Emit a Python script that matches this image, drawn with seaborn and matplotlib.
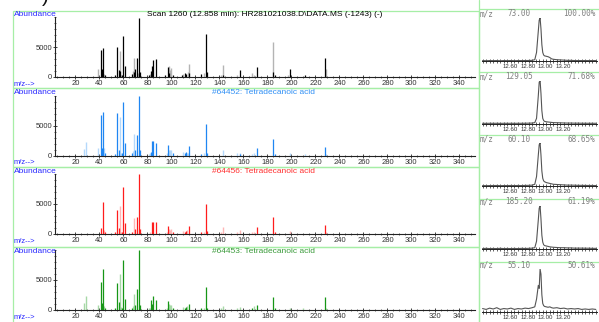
import matplotlib
matplotlib.use("Agg")
import matplotlib.pyplot as plt
from matplotlib.patches import Rectangle
from matplotlib.lines import Line2D
from matplotlib.ticker import MultipleLocator, FixedLocator
import seaborn as sns
import numpy as np

sns.set_style("ticks")
plt.rcParams['font.family'] = ['Liberation Sans', 'DejaVu Sans']

# ---------------- data: mass spectra ----------------
p1_dark_mz = [41, 42, 43, 45, 53, 55, 56, 57, 59, 60, 61, 67, 69, 70, 71, 73, 74, 81, 83, 84, 85, 87,
              95, 97, 98, 101, 109, 111, 112, 115, 125, 129, 130, 143, 157, 171, 185, 186, 199, 211, 228]
p1_dark_ab = [4560, 1400, 4840, 300, 400, 4950, 1200, 1000, 300, 6760, 1900, 500, 900, 1400, 3200, 9800, 800,
              300, 1000, 1800, 2800, 3000, 300, 1700, 700, 300, 300, 700, 500, 600, 500, 7100, 900, 400,
              1150, 1700, 900, 300, 1300, 400, 3200]
p1_light_mz = [39, 44, 57, 58, 68, 69, 72, 82, 98, 99, 100, 110, 114, 115, 127, 141, 143, 155, 167, 169,
               185, 197, 229]
p1_light_ab = [1300, 500, 4340, 400, 1000, 3200, 600, 500, 1800, 1100, 1500, 500, 900, 2100, 600, 400, 2000,
               400, 600, 400, 5900, 300, 1300]

p2_dark_mz = [41, 42, 43, 45, 53, 55, 56, 59, 60, 61, 67, 70, 71, 73, 74, 83, 84, 85, 87, 97, 101, 111,
              112, 115, 125, 129, 130, 157, 171, 185, 186, 228]
p2_dark_ab = [6700, 1300, 7200, 500, 300, 7100, 1000, 500, 8950, 2050, 400, 950, 3400, 10000, 1000, 600, 2400,
              2400, 2050, 1700, 400, 400, 600, 1550, 300, 5170, 500, 300, 1300, 2830, 300, 1500]
p2_light_mz = [27, 29, 39, 44, 57, 58, 68, 69, 81, 82, 96, 98, 99, 100, 110, 113, 114, 127, 143, 155, 157,
               167, 169, 199, 211, 229]
p2_light_ab = [1050, 2300, 1300, 1300, 6450, 500, 700, 3550, 300, 400, 500, 1000, 900, 900, 600, 500, 400,
               400, 1000, 500, 500, 300, 500, 500, 300, 300]

p3_dark_mz = [41, 43, 45, 53, 55, 56, 59, 60, 61, 67, 70, 71, 73, 74, 84, 85, 87, 97, 101, 111, 112, 115,
              125, 129, 130, 171, 185, 186, 228]
p3_dark_ab = [1000, 5280, 300, 300, 3930, 1000, 300, 7800, 1800, 300, 800, 2800, 10000, 800, 2000, 2000, 2000,
              1400, 300, 300, 500, 1400, 300, 5000, 500, 1200, 2860, 300, 1500]
p3_light_mz = [44, 57, 58, 69, 82, 96, 98, 99, 100, 110, 113, 127, 141, 143, 155, 157, 167, 169, 199, 229]
p3_light_ab = [700, 4720, 400, 2640, 300, 400, 900, 600, 800, 500, 700, 400, 300, 1200, 400, 600, 300, 400,
               500, 300]

p4_dark_mz = [41, 42, 43, 45, 53, 55, 56, 59, 60, 61, 67, 70, 71, 73, 74, 83, 84, 85, 87, 97, 101, 111,
              112, 115, 125, 129, 130, 167, 171, 185, 186, 228]
p4_dark_ab = [4600, 1100, 6800, 300, 300, 4440, 1300, 400, 8400, 1900, 300, 900, 3430, 10050, 800, 1750, 1000,
              2400, 1600, 1500, 300, 400, 500, 1070, 300, 3760, 400, 400, 800, 2250, 300, 2250]
p4_light_mz = [27, 29, 39, 44, 57, 58, 68, 69, 81, 82, 96, 98, 99, 100, 110, 113, 127, 141, 143, 155, 157,
               169, 199, 210, 229]
p4_light_ab = [1100, 2400, 900, 600, 6070, 500, 600, 2750, 300, 300, 400, 1000, 900, 800, 500, 600, 400, 300,
               700, 400, 500, 600, 400, 300, 300]

spec_titles = ["Scan 1260 (12.858 min): HR281021038.D\\DATA.MS (-1243) (-)",
               "#64452: Tetradecanoic acid",
               "#64456: Tetradecanoic acid",
               "#64453: Tetradecanoic acid"]
x_ticks = [20, 40, 60, 80, 100, 120, 140, 160, 180, 200, 220, 240, 260, 280, 300, 320, 340]
y_ticks = [0, 5000]

# ---------------- data: extracted ion chromatograms ----------------
eic_labels = [("73.00", "100.00%"), ("129.05", "71.68%"), ("60.10", "68.65%"),
              ("185.20", "61.19%"), ("55.10", "50.61%")]
eic_time = [12.20, 12.24, 12.28, 12.32, 12.36, 12.40, 12.44, 12.48, 12.52, 12.56, 12.60, 12.64, 12.68,
            12.72, 12.76, 12.79, 12.81, 12.83, 12.84, 12.85, 12.86, 12.87, 12.88, 12.89, 12.90, 12.92,
            12.94, 12.96, 12.98, 13.00, 13.04, 13.08, 13.12, 13.16, 13.20, 13.24, 13.28, 13.32, 13.36,
            13.40, 13.44, 13.48]
eic_73 = [1, 0.6, 1, 0.8, 1, 0.6, 1, 0.8, 1, 0.7, 1, 0.9, 1, 1.2, 1.5, 3, 20, 70, 95, 100, 75, 38, 20, 14,
          12, 11, 10, 8, 5, 4, 3, 2.5, 2, 1.5, 1.5, 1, 1, 1, 1, 1, 1, 1]
eic_129 = [0.5, 0.3, 0.5, 0.4, 0.5, 0.3, 0.5, 0.4, 0.5, 0.4, 0.5, 0.5, 0.6, 0.8, 1, 2, 12, 65, 96, 100, 70,
           30, 12, 7, 5, 4, 3.5, 3, 2.5, 2, 1.8, 1.5, 1.2, 1, 1, 0.8, 0.8, 0.6, 0.6, 0.5, 0.5, 0.5]
eic_60 = [1, 0.8, 1, 1, 1.2, 0.8, 1, 1, 1.2, 1, 1.2, 1, 1.3, 1.5, 2, 4, 22, 72, 96, 100, 72, 35, 18, 12, 10,
          8, 7, 6, 5, 4, 3.5, 3, 2.5, 2, 2, 1.8, 1.5, 1.5, 1.3, 1.2, 1.2, 1]
eic_185 = [1, 1.5, 1, 1.2, 1, 1.5, 1, 1.2, 1, 1.3, 1, 1.5, 1.2, 1.5, 2, 3, 18, 68, 95, 100, 70, 32, 16, 10,
           8, 7, 6, 5, 4.5, 4, 3.5, 3, 3, 2.5, 2.5, 2, 2, 2, 1.8, 1.8, 1.5, 1.5]
eic_55 = [8, 6, 9, 7, 10, 6, 8, 7, 9, 6, 8, 7, 9, 8, 10, 12, 30, 62, 55, 100, 88, 40, 20, 15, 13, 12, 11, 12,
          10, 9, 10, 8, 9, 7, 8, 7, 8, 6, 7, 6, 7, 6]
eic_ticks = [12.60, 12.80, 13.00, 13.20]

# ---------------- layout ----------------
W, H = 599, 322
fig = plt.figure(figsize=(W / 100, H / 100), dpi=100)
fig.patch.set_facecolor("white")


def rect(x0, y0, x1, y1):
    return [x0 / W, 1 - y1 / H, (x1 - x0) / W, (y1 - y0) / H]


def fx(x):
    return x / W


def fy(y):
    return 1 - y / H


green = "#a6eea6"
blue_txt = "#2a2aff"
tick_col = "#333333"

panels = [
    (p1_dark_mz, p1_dark_ab, p1_light_mz, p1_light_ab, "#000000", "#b4b4b4", "#000000"),
    (p2_dark_mz, p2_dark_ab, p2_light_mz, p2_light_ab, "#1f86f2", "#b4d8fb", "#2f8ff5"),
    (p3_dark_mz, p3_dark_ab, p3_light_mz, p3_light_ab, "#ff1c1c", "#ffb6b6", "#ff3030"),
    (p4_dark_mz, p4_dark_ab, p4_light_mz, p4_light_ab, "#169616", "#a6d8a6", "#3a9a3a"),
]
tops = [11, 88, 167, 247]
bases = [77, 155.5, 234, 310]
bottoms = [88, 167, 247, 330]

for i, (dm, da, lm, la, dc, lc, tc) in enumerate(panels):
    T, B = tops[i], bases[i]
    # green frame
    fig.add_artist(Rectangle((fx(13), fy(bottoms[i])), (479 - 13) / W, (bottoms[i] - T) / H,
                             transform=fig.transFigure, fill=False, edgecolor=green, lw=0.9, zorder=-1))
    ax = fig.add_axes(rect(55, B - 60, 475, B))
    ax.vlines(lm, 0, la, color=lc, lw=1.0)
    ax.vlines(dm, 0, da, color=dc, lw=0.9)
    ax.set_xlim(3, 353)
    ax.set_ylim(0, 10000)
    ax.patch.set_alpha(0)
    sns.despine(ax=ax)
    for s in ["left", "bottom"]:
        ax.spines[s].set_color("#222222")
        ax.spines[s].set_linewidth(0.8)
    ax.xaxis.set_major_locator(FixedLocator(x_ticks))
    ax.xaxis.set_minor_locator(MultipleLocator(5))
    ax.yaxis.set_major_locator(FixedLocator(y_ticks))
    ax.yaxis.set_minor_locator(MultipleLocator(1000))
    ax.tick_params(axis="both", which="major", labelsize=5.5, colors="#222222", labelcolor=tick_col,
                   length=2.5, width=0.6, pad=1, direction="inout")
    ax.tick_params(axis="both", which="minor", length=1.8, width=0.5, colors="#222222", direction="inout")
    ax.set_xticklabels([str(v) for v in x_ticks])
    ax.set_yticklabels([str(v) for v in y_ticks])
    # texts
    ty = T + 3.0 if i == 0 else T + 4.5
    fig.text(fx(14), fy(ty), "Abundance", color=blue_txt, fontsize=6, va="center", ha="left")
    fig.text(fx(14), fy(B + 7.5), "m/z-->", color=blue_txt, fontsize=5.5, va="center", ha="left")
    if i == 0:
        fig.text(fx(265), fy(ty), spec_titles[i], color=tc, fontsize=6, va="center", ha="center")
    else:
        fig.text(fx(315), fy(ty), spec_titles[i], color=tc, fontsize=6, va="center", ha="right")

# right side: chromatograms
fig.add_artist(Line2D([fx(479), fx(479)], [fy(0), fy(H)], transform=fig.transFigure, color=green, lw=0.9))
eics = [eic_73, eic_129, eic_60, eic_185, eic_55]
label_ys = [14, 76.5, 139, 202, 265]
sep_ys = [9, 72.5, 135.5, 198.5, 261.5]
for k, vals in enumerate(eics):
    ly = label_ys[k]
    fig.add_artist(Line2D([fx(479), fx(W)], [fy(sep_ys[k]), fy(sep_ys[k])], transform=fig.transFigure,
                          color=green, lw=0.9))
    base = ly + 47
    ax = fig.add_axes(rect(481.7, ly + 4, 596.7, base))
    sns.lineplot(x=eic_time, y=vals, ax=ax, color="#555555", lw=0.8)
    ax.set_xlim(12.19, 13.49)
    ax.set_ylim(0, 100)
    ax.patch.set_alpha(0)
    for s in ["left", "right", "top"]:
        ax.spines[s].set_visible(False)
    ax.spines["bottom"].set_color("#222222")
    ax.spines["bottom"].set_linewidth(0.7)
    ax.set_yticks([])
    ax.set_xlabel("")
    ax.set_ylabel("")
    ax.xaxis.set_major_locator(FixedLocator(eic_ticks))
    ax.xaxis.set_minor_locator(MultipleLocator(0.04))
    ax.set_xticklabels(["%.2f" % v for v in eic_ticks])
    for lab in ax.get_xticklabels():
        lab.set_horizontalalignment("right")
    ax.tick_params(axis="x", which="major", labelsize=4.4, labelcolor=tick_col, colors="#222222",
                   length=3, width=0.5, pad=1, direction="inout")
    ax.tick_params(axis="x", which="minor", length=2.2, width=0.5, colors="#222222", direction="inout")
    mz, pct = eic_labels[k]
    fig.text(fx(480), fy(ly), "m/z", family="DejaVu Sans Mono", fontsize=5.5, color="#808080",
             va="center", ha="left")
    fig.text(fx(519), fy(ly), mz, family="DejaVu Sans Mono", fontsize=5.5, color="#808080",
             va="center", ha="center")
    fig.text(fx(595), fy(ly), pct, family="DejaVu Sans Mono", fontsize=5.5, color="#808080",
             va="center", ha="right")

# fragment of an outer caption at the very top
fig.text(fx(45), fy(-3), ")", fontsize=15, color="#111111", va="center", ha="center")

fig.savefig("out.png", dpi=100, facecolor="white")
